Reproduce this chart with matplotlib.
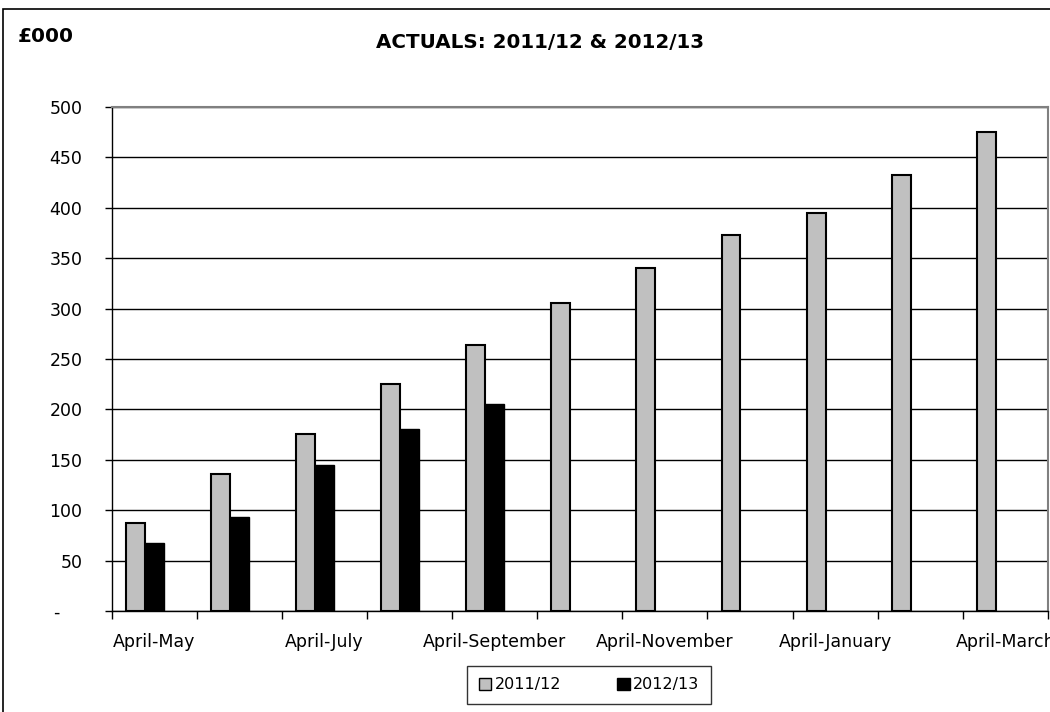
import matplotlib.pyplot as plt
from matplotlib.patches import Rectangle
import numpy as np

categories = ['April-May', 'April-June', 'April-July', 'April-August',
              'April-September', 'April-October', 'April-November',
              'April-December', 'April-January', 'April-February', 'April-March']
actual_2011 = [87, 136, 176, 225, 264, 306, 340, 373, 395, 433, 475]
actual_2012 = [67, 93, 145, 181, 205]
y_ticks = [0, 50, 100, 150, 200, 250, 300, 350, 400, 450, 500]
y_labels = ['-    '] + [str(v) for v in y_ticks[1:]]

plt.rcParams['font.family'] = 'DejaVu Sans'

fig = plt.figure(figsize=(10.5, 7.12), dpi=100)
ax = fig.add_axes([0.1064, 0.1419, 0.8916, 0.7078])

x = np.arange(len(categories))
w = 0.222
start = -0.335  # group is laid out for three series, third one empty
ax.bar(x + start, actual_2011, width=w, align='edge', color='#c0c0c0',
       edgecolor='black', linewidth=1.5, label='2011/12', zorder=3)
ax.bar(np.arange(len(actual_2012)) + start + w, actual_2012, width=w,
       align='edge', color='black', edgecolor='black', linewidth=1,
       label='2012/13', zorder=3)

ax.set_xlim(-0.5, len(categories) - 0.5)
ax.set_ylim(0, 500)
ax.set_yticks(y_ticks)
ax.set_yticklabels(y_labels, fontsize=12.5)
ax.yaxis.grid(True, color='black', linewidth=1, zorder=0)
ax.tick_params(axis='y', length=5, width=1, pad=16)

# category boundaries get the tick marks, every other centre gets a label
ax.set_xticks(np.arange(len(categories) + 1) - 0.5)
ax.set_xticklabels([])
ax.tick_params(axis='x', which='major', length=6, width=1)
ax.set_xticks(x[::2], minor=True)
ax.set_xticklabels(categories[::2], minor=True, fontsize=12.5)
ax.tick_params(axis='x', which='minor', length=0, pad=16)

for side in ['top', 'right']:
    ax.spines[side].set_color('#808080')
    ax.spines[side].set_linewidth(1.5)
for side in ['left', 'bottom']:
    ax.spines[side].set_color('black')
    ax.spines[side].set_linewidth(1)

fig.text(540 / 1050, 1 - 43 / 712, 'ACTUALS: 2011/12 & 2012/13', ha='center',
         va='center', fontsize=14.3, fontweight='bold')
fig.text(18 / 1050, 1 - 36 / 712, '£000', ha='left', va='center',
         fontsize=14.5, fontweight='bold')

leg = fig.legend(loc='center', bbox_to_anchor=(589 / 1050, 1 - 685 / 712),
                 ncol=2, fontsize=11.5, frameon=True, fancybox=False,
                 handlelength=0.8, handleheight=0.8, handletextpad=0.2,
                 columnspacing=3.5, borderpad=0.75, borderaxespad=0)
leg.get_frame().set_edgecolor('black')
leg.get_frame().set_linewidth(1)
for h in leg.legend_handles:
    h.set_linewidth(1)

fig.patches.append(Rectangle((3 / 1050, -0.05), 1.1, 1.05 - 9 / 712,
                             transform=fig.transFigure, fill=False,
                             edgecolor='black', linewidth=1.2))

fig.savefig('out.png', dpi=100)
